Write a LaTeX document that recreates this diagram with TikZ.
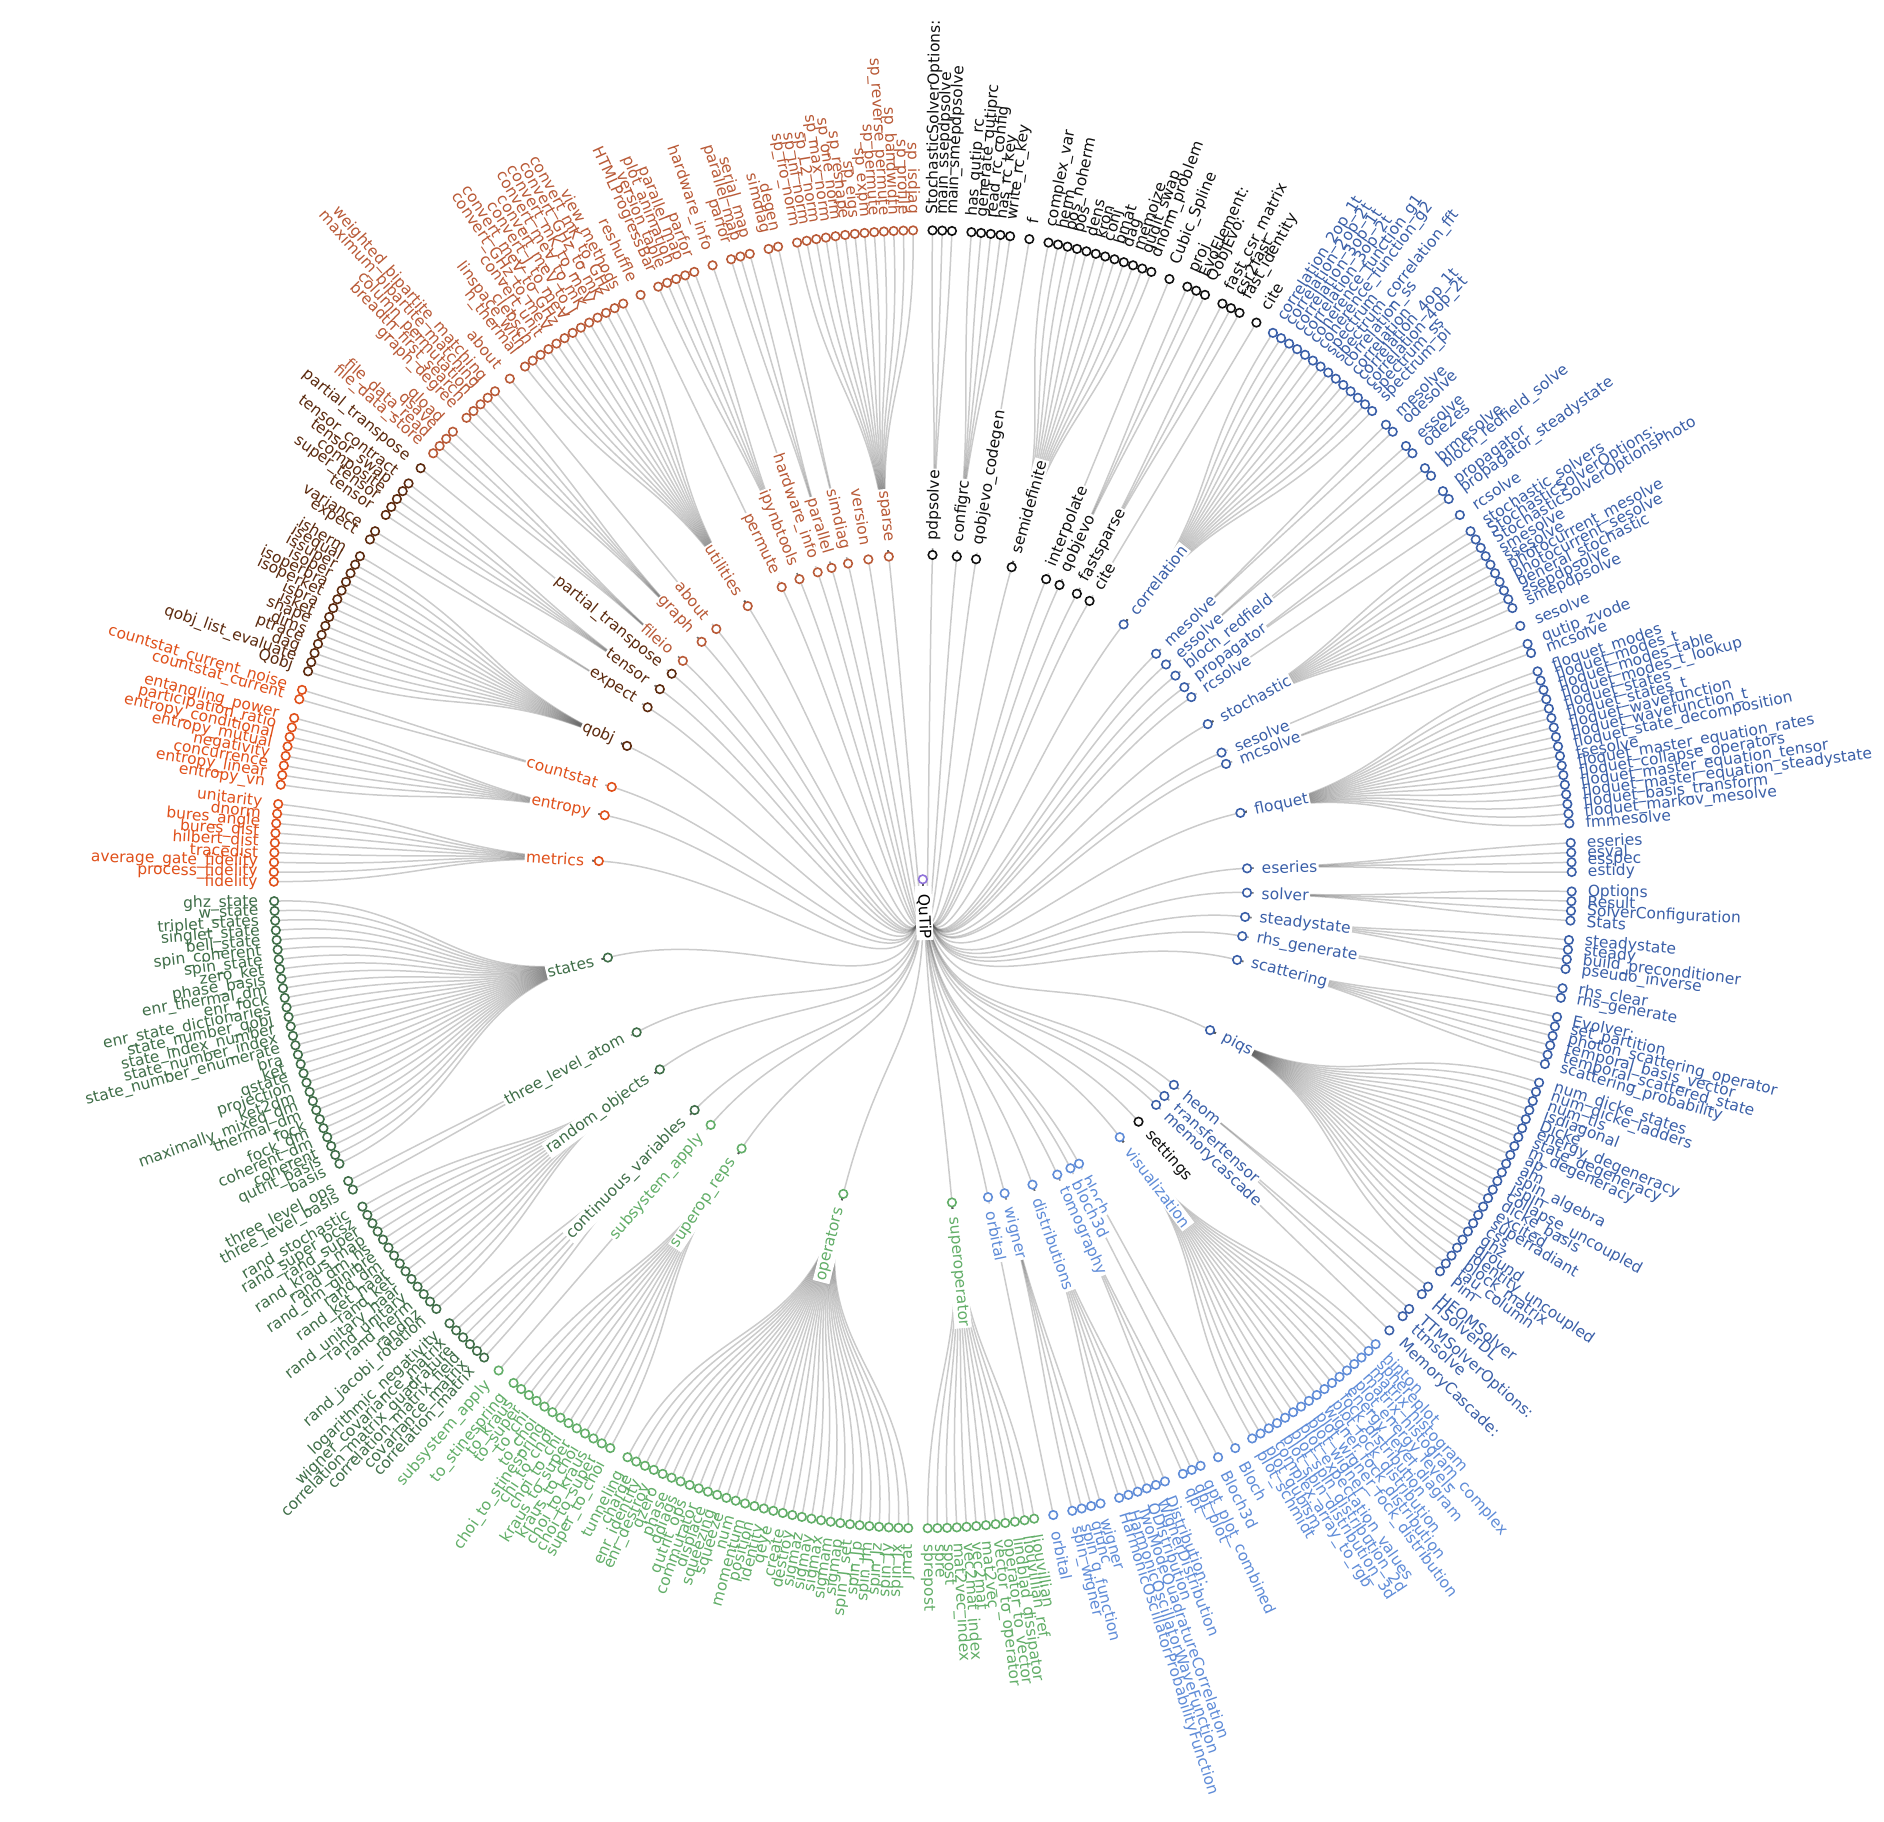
\documentclass[tikz,border=0pt]{standalone}
\usepackage{fontspec}
\setmainfont{DejaVu Sans}
\definecolor{cblack}{HTML}{111111}
\definecolor{cblue}{HTML}{3A5FA8}
\definecolor{clblue}{HTML}{5F8CD8}
\definecolor{clgreen}{HTML}{62AE68}
\definecolor{cdgreen}{HTML}{3F6E48}
\definecolor{corange}{HTML}{E0501A}
\definecolor{cbrown}{HTML}{5C2A0E}
\definecolor{csienna}{HTML}{B95A37}
\definecolor{croot}{HTML}{8F72DA}
\definecolor{linkc}{RGB}{85,85,85}
\tikzset{
  dot/.style={circle, draw=#1, fill=white, line width=1.6pt, minimum size=8.5pt, inner sep=0pt},
  lab/.style={text=#1, inner sep=0pt, font=\fontsize{15.5pt}{18pt}\selectfont},
  mlab/.style={text=#1, inner sep=1.5pt, fill=white, font=\fontsize{15.5pt}{18pt}\selectfont},
  link/.style={draw=linkc, draw opacity=0.30, line width=1.5pt},
}
\catcode`\_=12
\newif\ifnodepass
\newcount\gcnt
\gdef\curpos{-0.5}
\def\U{1.718377}
\def\RL{649}
\def\RM{324.5}
\def\RC{486.75}
\def\RR{162.25}
\def\OFFL{16}
\def\OFFM{13}
% #1 style, #2 colour, #3 theta, #4 radius, #5 offset, #6 text, #7 pad
\newcommand\placelabel[7]{%
  \ifdim#3pt<180pt
    \node[#1=#2, anchor=west, rotate=90-#3] at ({90-#3}:{#4+#5-#7}) {\hspace*{#7pt}#6};
  \else
    \node[#1=#2, anchor=east, rotate=270-#3] at ({90-#3}:{#4+#5-#7}) {#6\hspace*{#7pt}};
  \fi}
\newcommand\modnode[4]{%
  \ifnodepass
    \node[dot=#3] (#1) at ({90-#4}:\RM) {};
    \placelabel{mlab}{#3}{#4}{\RM}{\OFFM}{#2}{6.5}%
  \else
    \coordinate (#1) at ({90-#4}:\RM);
    \draw[link] (root) .. controls ({90-\rootth}:\RR) and ({90-#4}:\RR) .. (#1);
  \fi}
\newcommand\grp[4]{%
  \pgfmathsetmacro\gfirst{\curpos+1}%
  \global\gcnt=0
  \foreach \l in {#4}{\global\advance\gcnt by 1}%
  \pgfmathsetmacro\glast{\gfirst+0.5*(\the\gcnt-1)}%
  \xdef\curpos{\glast}%
  \pgfmathsetmacro\gth{(\gfirst+\glast)/2*\U}%
  \modnode{#1}{#2}{#3}{\gth}%
  \foreach \l [count=\k] in {#4}{%
    \pgfmathsetmacro\lth{(\gfirst+0.5*(\k-1))*\U}%
    \ifnodepass
      \node[dot=#3] (#1-\k) at ({90-\lth}:\RL) {};
      \placelabel{lab}{#3}{\lth}{\RL}{\OFFL}{\l}{0}%
    \else
      \coordinate (#1-\k) at ({90-\lth}:\RL);
      \draw[link] (#1) .. controls ({90-\gth}:\RC) and ({90-\lth}:\RC) .. (#1-\k);
    \fi
  }}
\newcommand\qtree{%
\grp{pdpsolve}{pdpsolve}{cblack}{StochasticSolverOptions:,main_ssepdpsolve,main_smepdpsolve}
\grp{configrc}{configrc}{cblack}{has_qutip_rc,generate_qutiprc,read_rc_config,has_rc_key,write_rc_key}
\grp{qobjevocodegen}{qobjevo_codegen}{cblack}{f}
\grp{semidefinite}{semidefinite}{cblack}{complex_var,herm,pos_noherm,pos,dens,kron,conj,bmat,dag,memoize,qudit_swap,dnorm_problem}
\grp{interpolate}{interpolate}{cblack}{Cubic_Spline}
\grp{qobjevo}{qobjevo}{cblack}{proj,EvoElement:,QobjEvo:}
\grp{fastsparse}{fastsparse}{cblack}{fast_csr_matrix,csr2fast,fast_identity}
\grp{cite}{cite}{cblack}{cite}
\grp{correlation}{correlation}{cblue}{correlation_2op_1t,correlation_2op_2t,correlation_3op_1t,correlation_3op_2t,coherence_function_g1,coherence_function_g2,spectrum,spectrum_correlation_fft,correlation_ss,correlation,correlation_4op_1t,correlation_4op_2t,spectrum_ss,spectrum_pi}
\grp{mesolve}{mesolve}{cblue}{mesolve,odesolve}
\grp{essolve}{essolve}{cblue}{essolve,ode2es}
\grp{blochredfield}{bloch_redfield}{cblue}{brmesolve,bloch_redfield_solve}
\grp{propagator}{propagator}{cblue}{propagator,propagator_steadystate}
\grp{rcsolve}{rcsolve}{cblue}{rcsolve}
\grp{stochastic}{stochastic}{cblue}{stochastic_solvers,StochasticSolverOptions:,StochasticSolverOptionsPhoto,smesolve,ssesolve,photocurrent_mesolve,photocurrent_sesolve,general_stochastic,ssepdpsolve,smepdpsolve}
\grp{sesolve}{sesolve}{cblue}{sesolve}
\grp{mcsolve}{mcsolve}{cblue}{qutip_zvode,mcsolve}
\grp{floquet}{floquet}{cblue}{floquet_modes,floquet_modes_t,floquet_modes_table,floquet_modes_t_lookup,floquet_states,floquet_states_t,floquet_wavefunction,floquet_wavefunction_t,floquet_state_decomposition,fsesolve,floquet_master_equation_rates,floquet_collapse_operators,floquet_master_equation_tensor,floquet_master_equation_steadystate,floquet_basis_transform,floquet_markov_mesolve,fmmesolve}
\grp{eseries}{eseries}{cblue}{eseries,esval,esspec,estidy}
\grp{solver}{solver}{cblue}{Options,Result,SolverConfiguration,Stats}
\grp{steadystate}{steadystate}{cblue}{steadystate,steady,build_preconditioner,pseudo_inverse}
\grp{rhsgenerate}{rhs_generate}{cblue}{rhs_clear,rhs_generate}
\grp{scattering}{scattering}{cblue}{Evolver:,set_partition,photon_scattering_operator,temporal_basis_vector,temporal_scattered_state,scattering_probability}
\grp{piqs}{piqs}{cblue}{num_dicke_states,num_dicke_ladders,num_tls,isdiagonal,Dicke,energy_degeneracy,state_degeneracy,m_degeneracy,ap,am,spin_algebra,jspin,collapse_uncoupled,dicke_basis,excited,superradiant,css,ghz,ground,identity_uncoupled,block_matrix,tau_column,Pim}
\grp{heom}{heom}{cblue}{HEOMSolver,HSolverDL}
\grp{transfertensor}{transfertensor}{cblue}{TTMSolverOptions:,ttmsolve}
\grp{memorycascade}{memorycascade}{cblue}{MemoryCascade:}
\pgfmathsetmacro\tmpth{80.5*\U}%
\modnode{settings}{settings}{cblack}{\tmpth}
\grp{visualization}{visualization}{clblue}{hinton,sphereplot,matrix_histogram,matrix_histogram_complex,plot_energy_levels,energy_level_diagram,fock_distribution,plot_fock_distribution,wigner_fock_distribution,plot_wigner_fock_distribution,plot_wigner,plot_expectation_values,plot_spin_distribution_2d,plot_spin_distribution_3d,complex_array_to_rgb,plot_qubism,plot_schmidt}
\grp{bloch}{bloch}{clblue}{Bloch}
\grp{blochthree}{bloch3d}{clblue}{Bloch3d}
\grp{tomography}{tomography}{clblue}{qpt_plot_combined,qpt_plot,qpt}
\grp{distributions}{distributions}{clblue}{Distribution:,WignerDistribution,QDistribution,TwoModeQuadratureCorrelation,HarmonicOscillatorWaveFunction,HarmonicOscillatorProbabilityFunction}
\grp{wigner}{wigner}{clblue}{wigner,qfunc,spin_q_function,spin_wigner}
\grp{orbital}{orbital}{clblue}{orbital}
\grp{superoperator}{superoperator}{clgreen}{liouvillian,liouvillian_ref,lindblad_dissipator,operator_to_vector,vector_to_operator,mat2vec,vec2mat,vec2mat_index,mat2vec_index,spost,spre,sprepost}
\grp{operators}{operators}{clgreen}{jmat,spin_Jx,spin_Jy,spin_Jz,spin_Jm,spin_Jp,spin_J_set,sigmap,sigmam,sigmax,sigmay,sigmaz,destroy,create,qeye,identity,position,momentum,num,squeeze,squeezing,displace,commutator,qutrit_ops,qdiags,phase,qzero,enr_destroy,enr_identity,charge,tunneling}
\grp{superopreps}{superop_reps}{clgreen}{super_to_choi,choi_to_super,choi_to_kraus,kraus_to_choi,kraus_to_super,choi_to_chi,chi_to_choi,choi_to_stinespring,to_choi,to_chi,to_super,to_kraus,to_stinespring}
\grp{subsystemapply}{subsystem_apply}{clgreen}{subsystem_apply}
\grp{contvar}{continuous_variables}{cdgreen}{correlation_matrix,covariance_matrix,correlation_matrix_field,correlation_matrix_quadrature,wigner_covariance_matrix,logarithmic_negativity}
\grp{randomobjects}{random_objects}{cdgreen}{rand_jacobi_rotation,randnz,rand_herm,rand_unitary,rand_unitary_haar,rand_ket,rand_ket_haar,rand_dm,rand_dm_ginibre,rand_dm_hs,rand_kraus_map,rand_super,rand_super_bcsz,rand_stochastic}
\grp{threelevel}{three_level_atom}{cdgreen}{three_level_basis,three_level_ops}
\grp{states}{states}{cdgreen}{basis,qutrit_basis,coherent,coherent_dm,fock_dm,fock,thermal_dm,maximally_mixed_dm,ket2dm,projection,qstate,ket,bra,state_number_enumerate,state_number_index,state_index_number,state_number_qobj,enr_state_dictionaries,enr_fock,enr_thermal_dm,phase_basis,zero_ket,spin_state,spin_coherent,bell_state,singlet_state,triplet_states,w_state,ghz_state}
\grp{metrics}{metrics}{corange}{fidelity,process_fidelity,average_gate_fidelity,tracedist,hilbert_dist,bures_dist,bures_angle,dnorm,unitarity}
\grp{entropy}{entropy}{corange}{entropy_vn,entropy_linear,concurrence,negativity,entropy_mutual,entropy_conditional,participation_ratio,entangling_power}
\grp{countstat}{countstat}{corange}{countstat_current,countstat_current_noise}
\grp{qobj}{qobj}{cbrown}{Qobj,qobj_list_evaluate,dag,ptrace,dims,shape,isket,isbra,isoperket,isoperbra,isoper,issuper,isequal,isherm}
\grp{expect}{expect}{cbrown}{expect,variance}
\grp{tensor}{tensor}{cbrown}{tensor,super_tensor,composite,tensor_swap,tensor_contract}
\grp{partialtranspose}{partial_transpose}{cbrown}{partial_transpose}
\grp{fileio}{fileio}{csienna}{file_data_store,file_data_read,qsave,qload}
\grp{graph}{graph}{csienna}{graph_degree,breadth_first_search,column_permutation,maximum_bipartite_matching,weighted_bipartite_matching}
\grp{about}{about}{csienna}{about}
\grp{utilities}{utilities}{csienna}{n_thermal,linspace_with,clebsch,convert_unit,convert_GHz_to_meV,convert_meV_to_GHz,convert_J_to_meV,convert_meV_to_J,convert_meV_to_mK,convert_mK_to_meV,convert_GHz_to_mK,convert_mK_to_GHz,view_methods}
\grp{permute}{permute}{csienna}{reshuffle}
\grp{ipynbtools}{ipynbtools}{csienna}{HTMLProgressBar,version_table,plot_animation,parallel_map,parfor}
\grp{hardwareinfo}{hardware_info}{csienna}{hardware_info}
\grp{parallel}{parallel}{csienna}{parfor,parallel_map,serial_map}
\grp{simdiag}{simdiag}{csienna}{simdiag,degen}
\pgfmathsetmacro\tmpth{203.875*\U}%
\modnode{version}{version}{csienna}{\tmpth}
\grp{sparse}{sparse}{csienna}{sp_fro_norm,sp_inf_norm,sp_L2_norm,sp_max_norm,sp_one_norm,sp_reshape,sp_eigs,sp_expm,sp_permute,sp_reverse_permute,sp_bandwidth,sp_profile,sp_isdiag}
}
\begin{document}
\begin{tikzpicture}[x=1pt,y=1pt]
\fill[white] (-922.8,-942.7) rectangle (961.2,879.3);
\useasboundingbox (-922.8,-942.7) rectangle (961.2,879.3);
\pgfmathsetmacro\rootth{103.5*\U}
\coordinate (root) at (0,0);
\nodepassfalse
\gdef\curpos{-0.5}
\qtree
\nodepasstrue
\gdef\curpos{-0.5}
\node[dot=croot] (root) at (0,0) {};
\placelabel{mlab}{black}{\rootth}{0}{\OFFM}{QuTiP}{6.5}
\qtree
\end{tikzpicture}
\end{document}
